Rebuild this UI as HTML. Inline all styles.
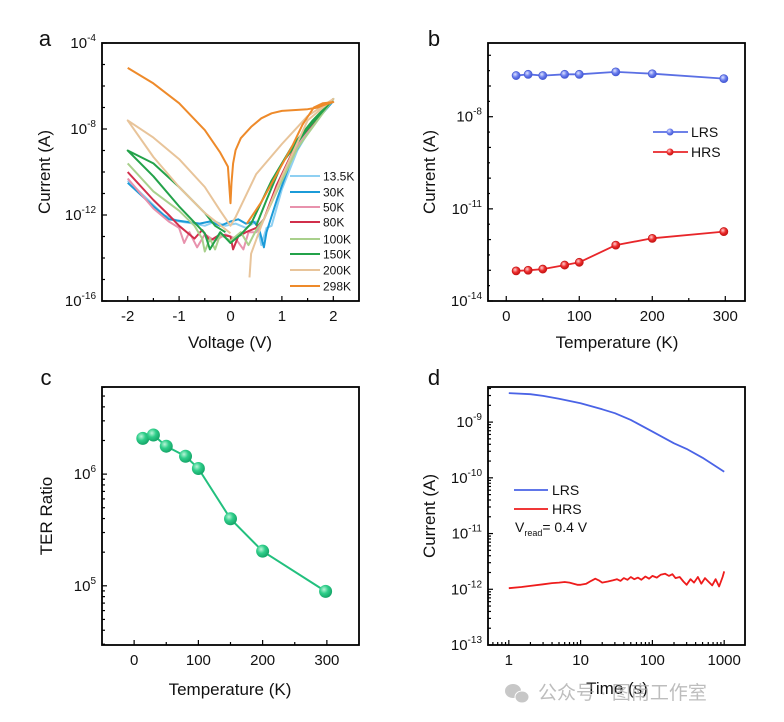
<!DOCTYPE html>
<html><head><meta charset="utf-8"><style>
body{margin:0;background:#fff;}
svg{display:block;font-family:"Liberation Sans",Arial,sans-serif;}
</style></head><body>
<svg id="fig" width="784" height="722" viewBox="0 0 784 722" xmlns="http://www.w3.org/2000/svg">
<defs>
<radialGradient id="ballG" cx="0.38" cy="0.35" r="0.7"><stop offset="0" stop-color="#b9f5d8"/><stop offset="0.45" stop-color="#2fce8a"/><stop offset="1" stop-color="#12a064"/></radialGradient>
<radialGradient id="ballB" cx="0.38" cy="0.35" r="0.7"><stop offset="0" stop-color="#dfe4ff"/><stop offset="0.5" stop-color="#6d80ee"/><stop offset="1" stop-color="#3e52d0"/></radialGradient>
<radialGradient id="ballR" cx="0.38" cy="0.35" r="0.7"><stop offset="0" stop-color="#ffd0d0"/><stop offset="0.5" stop-color="#ee2e2e"/><stop offset="1" stop-color="#c01010"/></radialGradient>
</defs>
</svg>
<script>
// ---------- Panel a data (log10 current vs voltage) ----------
const aNames = ["13.5K","30K","50K","80K","100K","150K","200K","298K"];
const aColors = ["#8fd0f2","#1b9bd8","#e892ad","#d12f4b","#a9d08c","#23a24a","#e8c49a","#ee8a2a"];
const aV_13 = [-2,-1.6,-1.3,-1,-0.7,-0.5,-0.3,-0.1,0.1,0.3,0.5,0.6,0.7,0.8,1.0,1.3,1.6,2];
const aI_13 = [-10.4,-11.3,-12.0,-12.3,-12.4,-12.5,-12.3,-12.5,-12.4,-12.6,-12.3,-13.4,-12.6,-12.5,-10.8,-9.0,-7.8,-6.7];
const aV_30 = [-2,-1.5,-1.2,-0.9,-0.6,-0.4,-0.2,0,0.15,0.3,0.45,0.55,0.65,0.7,0.9,1.2,1.6,2];
const aI_30 = [-10.5,-11.6,-12.2,-12.3,-12.4,-12.3,-12.5,-12.3,-12.2,-12.4,-12.3,-12.6,-13.5,-12.8,-11.3,-9.3,-7.8,-6.7];
const aV_50 = [-2,-1.5,-1.2,-1,-0.9,-0.8,-0.65,-0.5,-0.3,-0.1,0.1,0.25,0.35,0.5,0.65,0.9,1.3,2];
const aI_50 = [-10.3,-11.7,-12.3,-12.6,-13.3,-12.8,-13.5,-12.9,-13.2,-12.9,-13.1,-13.6,-12.8,-12.8,-12.2,-10.8,-8.8,-6.6];
const aV_80 = [-2,-1.5,-1.2,-1,-0.8,-0.7,-0.55,-0.4,-0.2,0,0.05,0.15,0.3,0.5,0.65,0.9,1.3,2];
const aI_80 = [-10.0,-11.3,-12.0,-12.5,-12.9,-13.1,-12.7,-13.2,-12.9,-13.0,-13.6,-13.0,-12.8,-12.6,-12.2,-10.6,-8.6,-6.6];
const aV_100 = [-2,-1.5,-1,-0.7,-0.55,-0.5,-0.4,-0.3,-0.2,0,0.2,0.35,0.5,0.65,0.9,1.3,2];
const aI_100 = [-9.6,-10.9,-11.8,-12.5,-13.1,-13.7,-13.1,-13.6,-12.9,-13.2,-12.8,-13.4,-12.7,-12.2,-10.9,-8.9,-6.6];
const aV_150 = [0.5,0.7,1,1.5,2,1.6,1.2,0.8,0.4,0.2,0,-0.2,-0.4,-0.5,-1,-1.5,-2,-1.5,-1,-0.5,-0.3,-0.1];
const aI_150 = [-12.5,-11.3,-9.6,-8.0,-6.6,-7.6,-8.8,-10.4,-12.4,-12.9,-13.3,-12.8,-13.6,-12.85,-11.6,-10.2,-9.0,-9.6,-10.7,-11.9,-12.5,-12.8];
const aV_200 = [0.37,0.4,0.6,1,1.5,2,1.5,1,0.5,0.1,0,-0.2,-0.5,-1,-1.5,-2,-1.5,-1,-0.5,0];
const aI_200 = [-14.9,-13.8,-12.5,-10.2,-7.6,-6.6,-7.4,-8.7,-10.1,-12.1,-12.5,-11.8,-10.7,-9.4,-8.4,-7.6,-9.3,-10.7,-11.9,-12.85];
const aV_298 = [0.32,0.6,0.9,1.2,1.4,1.62,1.8,2,1.8,1.7,1.5,1.0,0.8,0.6,0.4,0.2,0.1,0.05,0.02,0,-0.05,-0.2,-0.5,-1,-1.5,-2];
const aI_298 = [-12.4,-11.4,-10.1,-8.8,-7.8,-7.0,-6.8,-6.75,-6.9,-7.0,-7.08,-7.16,-7.27,-7.5,-7.9,-8.43,-8.98,-9.6,-10.5,-11.45,-9.75,-9.1,-8.05,-6.8,-5.88,-5.16];
const aSeriesV = [aV_13,aV_30,aV_50,aV_80,aV_100,aV_150,aV_200,aV_298];
const aSeriesI = [aI_13,aI_30,aI_50,aI_80,aI_100,aI_150,aI_200,aI_298];

// ---------- Panel b data ----------
const bTemps = [13.5,30,50,80,100,150,200,298];
const bLRS = [-6.66,-6.62,-6.66,-6.62,-6.62,-6.54,-6.60,-6.76];
const bHRS = [-13.02,-13.0,-12.96,-12.83,-12.74,-12.18,-11.96,-11.74];

// ---------- Panel c data ----------
const cTemps = [13.5,30,50,80,100,150,200,298];
const cTER = [6.32,6.35,6.25,6.16,6.05,5.6,5.31,4.95];

// ---------- Panel d data ----------
const dLRS_t = [1,2,3,5,10,20,30,50,100,200,300,500,1000];
const dLRS_I = [-8.48,-8.50,-8.53,-8.58,-8.66,-8.77,-8.84,-8.96,-9.17,-9.38,-9.48,-9.64,-9.89];
const dHRS_t = [1,1.5,2,3,4,5,6,7,8,9,10,12,14,16,18,20,24,28,32,36,40,45,50,56,63,70,80,90,100,115,130,150,170,190,210,240,270,300,340,380,430,480,540,600,680,760,850,950,1000];
const dHRS_I = [-11.98,-11.96,-11.94,-11.91,-11.89,-11.88,-11.87,-11.88,-11.90,-11.92,-11.92,-11.9,-11.85,-11.81,-11.84,-11.88,-11.86,-11.84,-11.82,-11.85,-11.80,-11.83,-11.78,-11.82,-11.79,-11.83,-11.77,-11.81,-11.76,-11.79,-11.74,-11.72,-11.76,-11.73,-11.80,-11.78,-11.86,-11.92,-11.82,-11.88,-11.78,-11.90,-11.80,-11.86,-11.93,-11.82,-11.95,-11.78,-11.68];

const NS = "http://www.w3.org/2000/svg";
const svg = document.getElementById("fig");
function mk(tag, attrs, parent){
  const e = document.createElementNS(NS, tag);
  for (const k in attrs) e.setAttribute(k, attrs[k]);
  (parent||svg).appendChild(e);
  return e;
}
function lin(d0,d1,r0,r1){return v=>r0+(v-d0)/(d1-d0)*(r1-r0);}
function txt(x,y,s,size,anchor,parent){
  const t = mk("text",{x:x,y:y,"font-size":size,"text-anchor":anchor||"middle",fill:"#111"},parent);
  t.textContent = s; return t;
}
function powLabel(x,y,exp,parent){
  const t = mk("text",{x:x,y:y,"font-size":15,"text-anchor":"end",fill:"#111"},parent);
  
  
  const a = mk("tspan",{},t); a.textContent="10";
  const b = mk("tspan",{"font-size":10,dy:-7},t); b.textContent=String(exp);
  return t;
}
function box(g,L,T,R,B){
  const r = mk("rect",{x:L,y:T,width:R-L,height:B-T,fill:"none",stroke:"#000","stroke-width":1.8},g);
  
  
}
function tick(g,x1,y1,x2,y2){mk("line",{x1:x1,y1:y1,x2:x2,y2:y2,stroke:"#000","stroke-width":1.2},g);}
function poly(g,xs,ys,fx,fy,color,w){
  const pts = xs.map((v,i)=>fx(v).toFixed(1)+","+fy(ys[i]).toFixed(1)).join(" ");
  return mk("polyline",{points:pts,fill:"none",stroke:color,"stroke-width":w,"stroke-linejoin":"round"},g);
}

// ===== Panel a =====
(function(){
  const g = mk("g",{});  
  const L=102,T=43,R=359,B=301;
  const fx = lin(-2.5,2.5,L,R), fy = lin(-16,-4,B,T);
  for (let i=0;i<aSeriesV.length;i++){
    const p = poly(g,aSeriesV[i],aSeriesI[i],fx,fy,aColors[i],2);
    
    
  }
  box(g,L,T,R,B);
  for (let e=-16;e<=-4;e++){ tick(g,L,fy(e),L+(e%4===0?5:3),fy(e)); }
  [-16,-12,-8,-4].forEach(e=>powLabel(L-6,fy(e)+5,e,g));
  for (let v=-2;v<=2;v+=0.5){ tick(g,fx(v),B,fx(v),B-(Number.isInteger(v)?5:3)); }
  [-2,-1,0,1,2].forEach(v=>{const t=txt(fx(v),B+20,String(v),15,"middle",g);  });
  const xt = txt(230,348,"Voltage (V)",17,"middle",g);  
  const yt = txt(0,0,"Current (A)",17,"middle",g); yt.setAttribute("transform","translate(50,172) rotate(-90)");
   
  const lt = txt(45,46,"a",22,"middle",g);  
  const leg = mk("g",{},g);  
  const ly=[176,192,207,222,239,254,270,286];
  aNames.forEach((n,i)=>{
    mk("line",{x1:290,y1:ly[i],x2:320,y2:ly[i],stroke:aColors[i],"stroke-width":2},leg);
    const t = txt(323,ly[i]+4.5,n,12,"start",leg);
     
  });
})();

// ===== Panel b =====
(function(){
  const g = mk("g",{});  
  const L=488,T=43,R=745,B=301;
  const fx = lin(-25,327,L,R), fy = lin(-14,-5.6,B,T);
  const l1 = poly(g,bTemps,bLRS,fx,fy,"#5a6fe4",1.8);  
  const l2 = poly(g,bTemps,bHRS,fx,fy,"#e8262a",1.8);  
  bTemps.forEach((t,i)=>{
    const c1 = mk("circle",{cx:fx(t),cy:fy(bLRS[i]),r:4,fill:"url(#ballB)",stroke:"#4a5ed6","stroke-width":0.8},g);
     
    const c2 = mk("circle",{cx:fx(t),cy:fy(bHRS[i]),r:4,fill:"url(#ballR)",stroke:"#c81818","stroke-width":0.8},g);
     
  });
  box(g,L,T,R,B);
  for (let e=-14;e<=-6;e++){ tick(g,L,fy(e),L+(e%3===-2?5:3),fy(e)); }
  for (let e=-13.5;e<=-6;e+=1){ tick(g,L,fy(e),L+2,fy(e)); }
  [-14,-11,-8].forEach(e=>powLabel(L-6,fy(e)+5,e,g));
  for (let v=0;v<=300;v+=50){ tick(g,fx(v),B,fx(v),B-(v%100===0?5:3)); }
  [0,100,200,300].forEach(v=>{const t=txt(fx(v),B+20,String(v),15,"middle",g);  });
  const xt = txt(617,348,"Temperature (K)",17,"middle",g);  
  const yt = txt(0,0,"Current (A)",17,"middle",g); yt.setAttribute("transform","translate(435,172) rotate(-90)");
   
  const lt = txt(434,46,"b",22,"middle",g);  
  const leg = mk("g",{},g);  
  mk("line",{x1:653,y1:132,x2:688,y2:132,stroke:"#5a6fe4","stroke-width":1.8},leg);
  mk("circle",{cx:670,cy:132,r:3.5,fill:"url(#ballB)"},leg);
  const t1=txt(691,137,"LRS",14,"start",leg);  
  mk("line",{x1:653,y1:152,x2:688,y2:152,stroke:"#e8262a","stroke-width":1.8},leg);
  mk("circle",{cx:670,cy:152,r:3.5,fill:"url(#ballR)"},leg);
  const t2=txt(691,157,"HRS",14,"start",leg);  
})();

// ===== Panel c =====
(function(){
  const g = mk("g",{});  
  const L=102,T=387,R=359,B=645;
  const fx = lin(-50,350,L,R), fy = lin(4.47,6.78,B,T);
  const l = poly(g,cTemps,cTER,fx,fy,"#22c07e",2);  
  cTemps.forEach((t,i)=>{
    const c = mk("circle",{cx:fx(t),cy:fy(cTER[i]),r:6.5,fill:"url(#ballG)"},g);
     
  });
  box(g,L,T,R,B);
  for (let d=4;d<=6;d++) for (let m=1;m<=9;m++){
    const v = d+Math.log10(m); if (v<4.47||v>6.78) continue;
    tick(g,L,fy(v),L+(m===1?5:3),fy(v));
  }
  [5,6].forEach(e=>powLabel(L-6,fy(e)+5,e,g));
  for (let v=0;v<=300;v+=50){ tick(g,fx(v),B,fx(v),B-(v%100===0?5:3)); }
  [0,100,200,300].forEach(v=>{const t=txt(fx(v),B+20,String(v),15,"middle",g);  });
  const xt = txt(230,695,"Temperature (K)",17,"middle",g);  
  const yt = txt(0,0,"TER Ratio",17,"middle",g); yt.setAttribute("transform","translate(52,516) rotate(-90)");
   
  const lt = txt(46,385,"c",22,"middle",g);  
})();

// ===== Panel d =====
(function(){
  const g = mk("g",{});  
  const L=488,T=387,R=745,B=645;
  const lx = lin(-0.29,3.29,L,R), fy = lin(-13,-8.37,B,T);
  const fx = t=>lx(Math.log10(t));
  const l1 = poly(g,dLRS_t,dLRS_I,fx,fy,"#4a63e6",1.8);  
  const l2 = poly(g,dHRS_t,dHRS_I,fx,fy,"#ee1c1c",1.8);  
  box(g,L,T,R,B);
  for (let d=-13;d<=-9;d++) for (let m=1;m<=9;m++){
    const v = d+Math.log10(m); if (v>-8.37) continue;
    tick(g,L,fy(v),L+(m===1?5:3),fy(v));
  }
  [-13,-12,-11,-10,-9].forEach(e=>powLabel(L-6,fy(e)+5,e,g));
  for (let d=-1;d<=3;d++) for (let m=1;m<=9;m++){
    const v = d+Math.log10(m); if (v<-0.29||v>3.29) continue;
    tick(g,lx(v),B,lx(v),B-(m===1?5:3));
  }
  [1,10,100,1000].forEach(v=>{const t=txt(fx(v),B+20,String(v),15,"middle",g);  });
  const xt = txt(617,694,"Time (s)",17,"middle",g);  
  const yt = txt(0,0,"Current (A)",17,"middle",g); yt.setAttribute("transform","translate(435,516) rotate(-90)");
   
  const lt = txt(434,385,"d",22,"middle",g);  
  const leg = mk("g",{},g);  
  mk("line",{x1:514,y1:490,x2:548,y2:490,stroke:"#4a63e6","stroke-width":1.8},leg);
  const t1=txt(552,495,"LRS",14,"start",leg);  
  mk("line",{x1:514,y1:509,x2:548,y2:509,stroke:"#ee1c1c","stroke-width":1.8},leg);
  const t2=txt(552,514,"HRS",14,"start",leg);  
  const vr = mk("text",{x:515,y:532,"font-size":14,fill:"#111"},leg);
   
  const a = mk("tspan",{},vr); a.textContent="V";
  const b = mk("tspan",{"font-size":9,dy:4},vr); b.textContent="read";
  const c = mk("tspan",{dy:-4},vr); c.textContent="= 0.4 V";
})();

// ===== Watermark =====
(function(){
  const g = mk("g",{opacity:0.75});  
  mk("ellipse",{cx:513,cy:691,rx:8,ry:7,fill:"#b5b5b5"},g);
  mk("ellipse",{cx:522,cy:697,rx:7,ry:6,fill:"#b5b5b5",stroke:"#fff","stroke-width":1},g);
  const t = mk("text",{x:538,y:699,"font-size":19,fill:"#a8a8a8","font-family":"'Liberation Sans','Noto Sans CJK SC',sans-serif"},g);
  t.textContent = "公众号 · 图南工作室";
})();
</script>
</body></html>
